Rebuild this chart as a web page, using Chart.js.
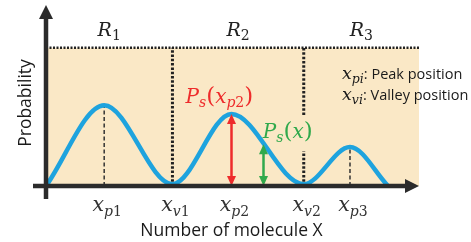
<!DOCTYPE html>
<html>
<head>
<meta charset="utf-8">
<script src="https://cdn.jsdelivr.net/npm/chart.js@4.4.0/dist/chart.umd.min.js"></script>
<style>
  html, body { margin: 0; padding: 0; background: #fff; overflow: hidden; }
  canvas { display: block; }
</style>
</head>
<body>
<canvas id="chart" width="471" height="242"></canvas>
<script>
// Key points of the probability curve: start, peaks, valleys, end
const curveX = [0, 15.6, 33.9, 49.7, 69.1, 81.5, 91.7];
const curveY = [0, 44.6, 1, 39.8, 1, 21.5, 0];

// Labels under the x axis (at peaks and valleys)
const tickPos = [15.6, 33.9, 49.7, 69.1, 81.5];
const tickKind = ['p', 'v', 'p', 'v', 'p'];
const tickNum = ['1', '1', '2', '2', '3'];

// Regions R1..R3, separated at the valleys
const regionEdges = [0, 33.9, 69.1, 100];
const regionNames = ['1', '2', '3'];
const shadeTop = 76.4;
// the second boundary is broken behind the green label
const boundaryGapLow = [null, 19.3];
const boundaryGapHigh = [null, 39.2];

// Dashed guides under peaks 1 and 3
const guideX = [15.6, 81.5];
const guideTop = [44.6, 21.5];

// Double arrows: P_s(x_p2) in red and P_s(x) in green
const arrowX = [49.7, 58.1];
const arrowTop = [39.8, 23];

const AXIS = '#2b2b2b';
const BLUE = '#1ea3de';
const RED = '#ee2b2b';
const GREEN = '#30a94c';
const SHADE = '#fae8c6';

const mathI = s => `italic ${s}px "DejaVu Serif"`;
const mathR = s => `${s}px "DejaVu Serif"`;
const sans = s => `${s}px "Open Sans"`;

// Draw a row of text runs (used for subscripts)
function drawRuns(ctx, runs, x, y, align) {
    let total = 0;
    runs.forEach(r => {
        ctx.font = r.font;
        r.w = ctx.measureText(r.t).width;
        total += r.w;
    });
    let cx = align === 'center' ? x - total / 2 : x;
    runs.forEach(r => {
        ctx.font = r.font;
        ctx.fillText(r.t, cx, y + (r.dy || 0));
        cx += r.w;
    });
}

function arrowHead(ctx, x, y, dir, w, h) {
    ctx.beginPath();
    ctx.moveTo(x, y);
    ctx.lineTo(x - w / 2, y - dir * h);
    ctx.lineTo(x + w / 2, y - dir * h);
    ctx.closePath();
    ctx.fill();
}

const diagramPlugin = {
    id: 'diagram',
    afterDatasetsDraw(chart) {
        const ctx = chart.ctx;
        const xs = chart.scales.x;
        const ys = chart.scales.y;
        const area = chart.chartArea;
        const y0 = ys.getPixelForValue(0);
        const x0 = xs.getPixelForValue(0);

        ctx.save();
        ctx.textBaseline = 'alphabetic';

        // double arrows
        [RED, GREEN].forEach((col, i) => {
            const px = Math.round(xs.getPixelForValue(arrowX[i])) + 0.5;
            const top = ys.getPixelForValue(arrowTop[i]);
            ctx.strokeStyle = col;
            ctx.fillStyle = col;
            ctx.lineWidth = 2.5;
            ctx.beginPath();
            ctx.moveTo(px, top + 8);
            ctx.lineTo(px, y0 - 8);
            ctx.stroke();
            arrowHead(ctx, px, top, -1, 9, 10);
            arrowHead(ctx, px, y0, 1, 9, 10);
        });

        // arrow labels
        let px = xs.getPixelForValue(arrowX[0]);
        let top = ys.getPixelForValue(arrowTop[0]);
        ctx.fillStyle = RED;
        drawRuns(ctx, [
            { t: 'P', font: mathI(20) },
            { t: 's', font: mathI(14), dy: 4 },
            { t: '(', font: mathR(23) },
            { t: 'x', font: mathI(20) },
            { t: 'p', font: mathI(14), dy: 4 },
            { t: '2', font: mathR(14), dy: 4 },
            { t: ')', font: mathR(23) }
        ], px - 12, top - 11, 'center');

        px = xs.getPixelForValue(arrowX[1]);
        top = ys.getPixelForValue(arrowTop[1]);
        ctx.fillStyle = GREEN;
        drawRuns(ctx, [
            { t: 'P', font: mathI(20) },
            { t: 's', font: mathI(14), dy: 4 },
            { t: '(', font: mathR(23) },
            { t: 'x', font: mathI(20) },
            { t: ')', font: mathR(23) }
        ], px + 25, top - 6, 'center');

        // axes
        ctx.strokeStyle = AXIS;
        ctx.fillStyle = AXIS;
        ctx.lineWidth = 4.5;
        ctx.beginPath();
        ctx.moveTo(x0 - 13, y0);
        ctx.lineTo(area.right - 12, y0);
        ctx.moveTo(x0, y0 + 13);
        ctx.lineTo(x0, area.top + 12);
        ctx.stroke();
        ctx.beginPath();
        ctx.moveTo(area.right, y0);
        ctx.lineTo(area.right - 14, y0 - 7);
        ctx.lineTo(area.right - 14, y0 + 7);
        ctx.closePath();
        ctx.fill();
        ctx.beginPath();
        ctx.moveTo(x0, area.top);
        ctx.lineTo(x0 - 7, area.top + 14);
        ctx.lineTo(x0 + 7, area.top + 14);
        ctx.closePath();
        ctx.fill();

        // tick labels
        ctx.fillStyle = '#333';
        tickPos.forEach((v, i) => {
            drawRuns(ctx, [
                { t: 'x', font: mathI(20.5) },
                { t: tickKind[i], font: mathI(14) , dy: 5 },
                { t: tickNum[i], font: mathR(14), dy: 5 }
            ], xs.getPixelForValue(v) + 3, y0 + 25, 'center');
        });

        // region names
        ctx.fillStyle = '#222';
        regionNames.forEach((n, i) => {
            const c = (xs.getPixelForValue(regionEdges[i]) + xs.getPixelForValue(regionEdges[i + 1])) / 2;
            drawRuns(ctx, [
                { t: 'R', font: mathI(19) },
                { t: n, font: mathR(14), dy: 4 }
            ], c, area.top + 31, 'center');
        });

        // key
        ctx.fillStyle = '#1a1a1a';
        drawRuns(ctx, [
            { t: 'x', font: mathI(17.5) },
            { t: 'pi', font: mathI(12.5), dy: 4 },
            { t: ': Peak position', font: sans(14.5) }
        ], 342, 79, 'left');
        drawRuns(ctx, [
            { t: 'x', font: mathI(17.5) },
            { t: 'vi', font: mathI(12.5), dy: 4 },
            { t: ': Valley position', font: sans(14.5) }
        ], 342, 100, 'left');

        // axis titles
        ctx.font = sans(17.5);
        ctx.textAlign = 'center';
        ctx.fillText('Number of molecule X', (area.left + area.right) / 2 - 1, 236);
        ctx.translate(31, 103);
        ctx.rotate(-Math.PI / 2);
        ctx.fillText('Probability', 0, 0);
        ctx.restore();
    }
};

const datasets = [];

// the probability curve
datasets.push({
    data: curveX.map((x, i) => ({ x: x, y: curveY[i] })),
    borderColor: BLUE,
    borderWidth: 4.5,
    cubicInterpolationMode: 'monotone',
    pointRadius: 0,
    fill: false,
    order: 1
});

// dashed guides under peaks
guideX.forEach((x, i) => {
    datasets.push({
        data: [{ x: x, y: 0 }, { x: x, y: guideTop[i] }],
        borderColor: '#333',
        borderWidth: 1.5,
        borderDash: [4, 2.5],
        pointRadius: 0,
        fill: false,
        order: 2
    });
});

// region boundaries (dotted)
regionEdges.slice(1, -1).forEach((x, i) => {
    let pts = [{ x: x, y: 0 }, { x: x, y: shadeTop }];
    if (boundaryGapLow[i] !== null) {
        pts = [{ x: x, y: 0 }, { x: x, y: boundaryGapLow[i] }, { x: x, y: null },
               { x: x, y: boundaryGapHigh[i] }, { x: x, y: shadeTop }];
    }
    datasets.push({
        data: pts,
        borderColor: '#222',
        borderWidth: 3,
        borderDash: [2.5, 1.8],
        pointRadius: 0,
        spanGaps: false,
        fill: false,
        order: 3
    });
});

// shaded band with dotted top edge
datasets.push({
    data: [{ x: regionEdges[0], y: shadeTop }, { x: regionEdges[3], y: shadeTop }],
    borderColor: '#222',
    borderWidth: 2.5,
    borderDash: [2, 1.5],
    backgroundColor: SHADE,
    pointRadius: 0,
    fill: 'origin',
    order: 4
});

new Chart(document.getElementById('chart'), {
    type: 'line',
    data: { datasets },
    options: {
        responsive: false,
        animation: false,
        layout: { padding: { left: 46, right: 52, top: 5, bottom: 56 } },
        plugins: {
            legend: { display: false },
            tooltip: { enabled: false }
        },
        scales: {
            x: { type: 'linear', min: 0, max: 100, display: false },
            y: { min: 0, max: 100, display: false }
        }
    },
    plugins: [diagramPlugin]
});
</script>
</body>
</html>
